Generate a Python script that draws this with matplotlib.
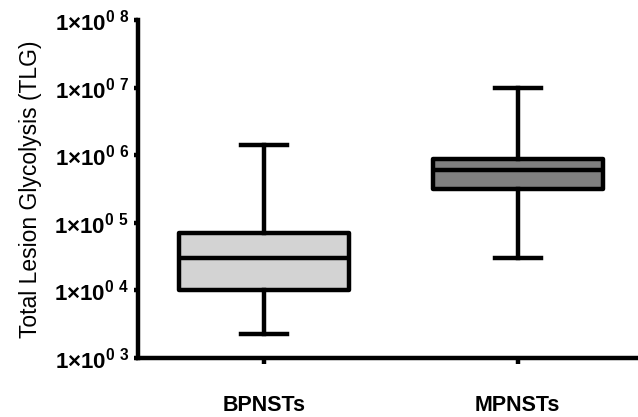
import matplotlib
matplotlib.use('Agg')
import matplotlib.pyplot as plt
from matplotlib.ticker import FixedLocator, FixedFormatter

plt.rcParams['font.family'] = ['Liberation Sans', 'DejaVu Sans']
plt.rcParams['mathtext.fontset'] = 'custom'
plt.rcParams['mathtext.rm'] = 'Liberation Sans:bold'
plt.rcParams['mathtext.bf'] = 'Liberation Sans:bold'

# box summary values
groups = ['BPNSTs', 'MPNSTs']
whisker_low = [2.3e3, 3.0e4]
q1 = [1.0e4, 3.2e5]
median = [3.0e4, 6.0e5]
q3 = [7.0e4, 8.8e5]
whisker_high = [1.4e6, 1.0e7]
box_colors = ['#d3d3d3', '#808080']

y_ticks = [1e3, 1e4, 1e5, 1e6, 1e7, 1e8]
y_tick_labels = [r'$\mathbf{1{\times}10^{0\ %d}}$' % e for e in range(3, 9)]

stats = []
for i, g in enumerate(groups):
    stats.append({'label': g, 'whislo': whisker_low[i], 'q1': q1[i],
                  'med': median[i], 'q3': q3[i], 'whishi': whisker_high[i],
                  'fliers': []})

fig = plt.figure(figsize=(6.38, 4.17), dpi=100)
ax = fig.add_axes([0.217, 0.1415, 0.783, 0.8105])

lw = 3.2
bp = ax.bxp(stats, positions=[1, 2], widths=0.67, patch_artist=True,
            showfliers=False,
            boxprops=dict(linewidth=lw, edgecolor='black'),
            medianprops=dict(linewidth=lw, color='black'),
            whiskerprops=dict(linewidth=lw, color='black'),
            capprops=dict(linewidth=lw, color='black'),
            capwidths=0.18)
for patch, c in zip(bp['boxes'], box_colors):
    patch.set_facecolor(c)
    patch.set_joinstyle('round')

ax.set_yscale('log')
ax.set_ylim(1e3, 1e8)
ax.set_xlim(0.506, 2.474)
ax.yaxis.set_major_locator(FixedLocator(y_ticks))
ax.yaxis.set_major_formatter(FixedFormatter(y_tick_labels))
ax.yaxis.set_minor_locator(FixedLocator([]))
ax.tick_params(axis='y', labelsize=16, width=lw, length=3, pad=4)
ax.tick_params(axis='x', labelsize=15.5, width=lw, length=4, pad=23)
for lab in ax.get_xticklabels():
    lab.set_fontweight('bold')

for side in ['top', 'right']:
    ax.spines[side].set_visible(False)
for side in ['left', 'bottom']:
    ax.spines[side].set_linewidth(lw)

ax.set_ylabel('Total Lesion Glycolysis (TLG)', fontsize=16.5, labelpad=9)

fig.savefig('out.png', dpi=100)
